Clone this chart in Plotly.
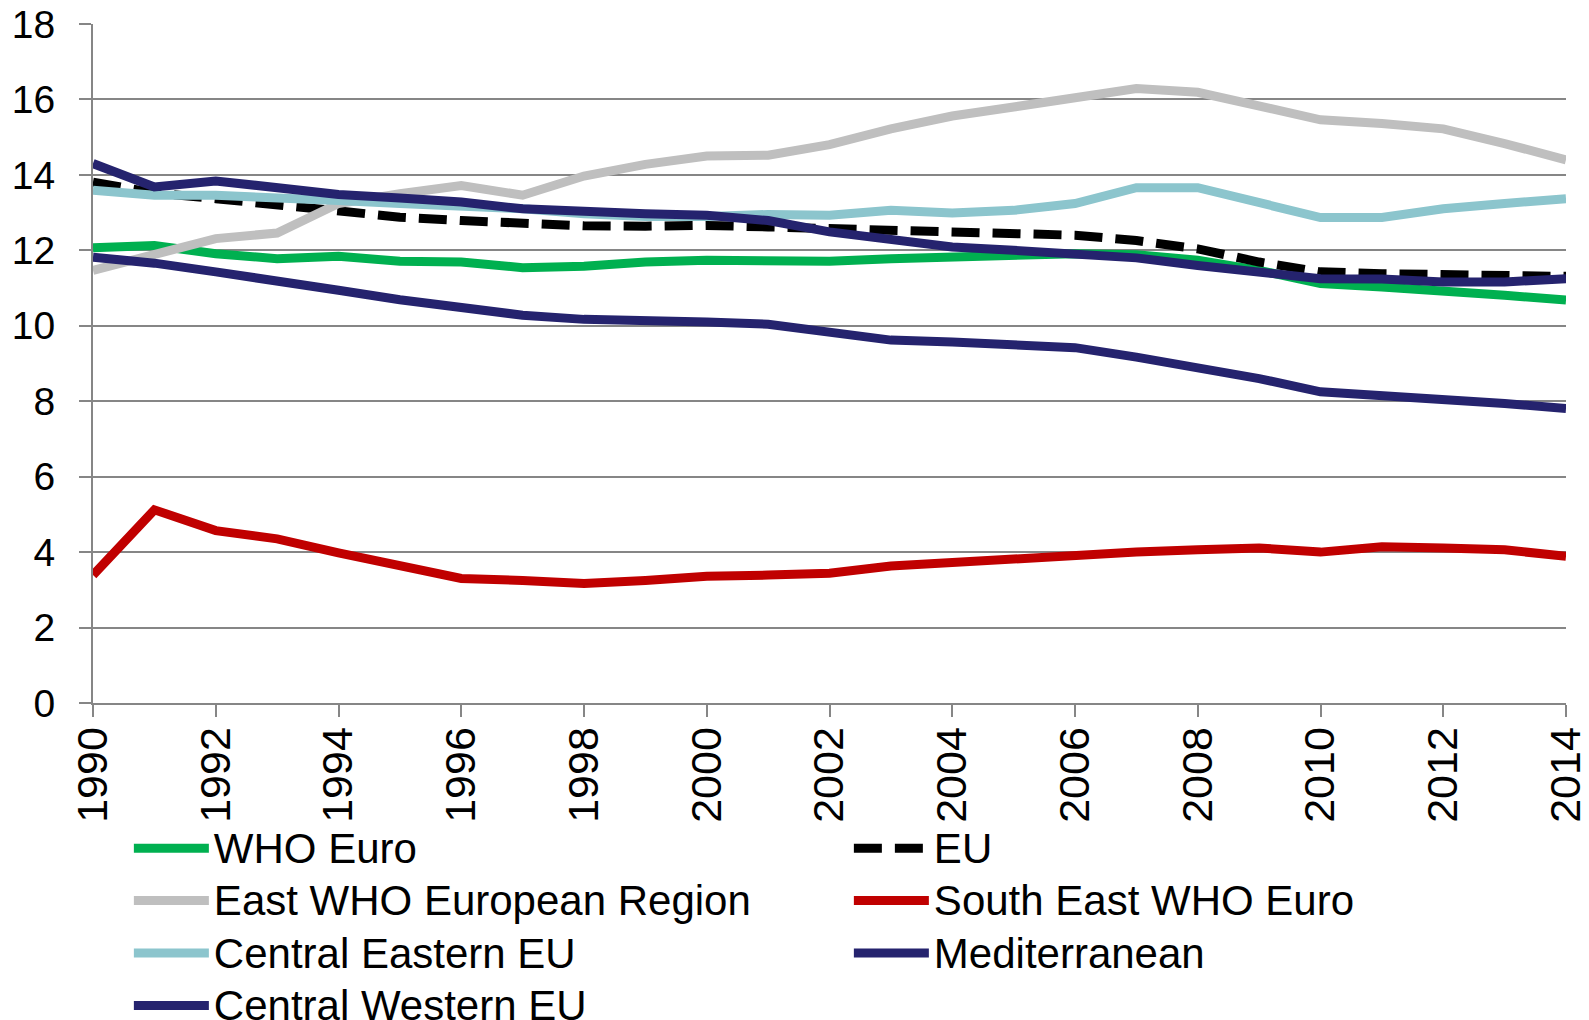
import plotly.graph_objects as go

years = list(range(1990, 2015))

who_euro = [12.07, 12.13, 11.91, 11.78, 11.84, 11.71, 11.69, 11.54, 11.58, 11.69, 11.74, 11.74, 11.71,
            11.78, 11.84, 11.87, 11.91, 11.88, 11.74, 11.47, 11.12, 11.03, 10.94, 10.81, 10.68]
eu = [13.81, 13.52, 13.37, 13.19, 13.06, 12.88, 12.79, 12.72, 12.65, 12.64, 12.66, 12.62, 12.57,
      12.49, 12.46, 12.40, 12.40, 12.26, 12.04, 11.69, 11.43, 11.38, 11.34, 11.34, 11.31]
east_who = [11.47, 11.87, 12.31, 12.46, 13.24, 13.50, 13.72, 13.46, 13.97, 14.28, 14.50, 14.52, 14.80,
            15.22, 15.56, 15.80, 16.04, 16.29, 16.19, 15.84, 15.46, 15.36, 15.22, 14.83, 14.40]
south_east = [3.39, 5.12, 4.57, 4.35, 3.98, 3.63, 3.30, 3.25, 3.17, 3.25, 3.36, 3.39, 3.44,
              3.63, 3.73, 3.82, 3.92, 4.00, 4.06, 4.11, 4.00, 4.14, 4.11, 4.06, 3.89]
central_eastern = [13.59, 13.46, 13.46, 13.41, 13.32, 13.24, 13.17, 13.10, 12.97, 12.90, 12.90, 12.95, 12.93,
                   13.06, 12.99, 13.06, 13.24, 13.66, 13.66, 13.28, 12.87, 12.87, 13.10, 13.24, 13.37]
mediterranean = [11.82, 11.66, 11.43, 11.21, 10.94, 10.69, 10.48, 10.28, 10.17, 10.15, 10.10, 10.04, 9.84,
                 9.62, 9.57, 9.48, 9.42, 9.17, 8.91, 8.60, 8.25, 8.16, 8.03, 7.94, 7.81]
central_western = [14.30, 13.68, 13.84, 13.66, 13.48, 13.39, 13.28, 13.10, 13.02, 12.97, 12.93, 12.79, 12.49,
                   12.26, 12.09, 12.00, 11.91, 11.80, 11.60, 11.45, 11.25, 11.24, 11.16, 11.16, 11.25]

x_ticks = list(range(1990, 2015, 2))
y_ticks = list(range(0, 19, 2))

series = [
    ("WHO Euro", who_euro, "#00B050", "solid"),
    ("EU", eu, "#000000", "28px,13px"),
    ("East WHO European Region", east_who, "#BFBFBF", "solid"),
    ("South East WHO Euro", south_east, "#C00000", "solid"),
    ("Central Eastern EU", central_eastern, "#8CC5CD", "solid"),
    ("Mediterranean", mediterranean, "#25236E", "solid"),
    ("Central Western EU", central_western, "#25236E", "solid"),
]

FONT = "Liberation Sans, Arial, sans-serif"
GRID = "#868686"

fig = go.Figure()
for name, vals, color, dash in series:
    fig.add_trace(go.Scatter(x=years, y=vals, name=f"<span style='font-size:42px'>{name}</span>",
                             mode="lines", line=dict(color=color, width=9, dash=dash)))

fig.update_layout(
    width=1589, height=1020,
    margin=dict(l=93, r=23, t=24, b=317, autoexpand=False),
    paper_bgcolor="white", plot_bgcolor="white",
    font=dict(family=FONT, color="black"),
    showlegend=True,
    legend=dict(
        orientation="h", xref="container", yref="container",
        x=0.0811, y=0.199, xanchor="left", yanchor="top",
        font=dict(size=38, family=FONT, color="black"),
        entrywidth=630, entrywidthmode="pixels",
        itemwidth=75, tracegroupgap=0, bgcolor="rgba(0,0,0,0)",
    ),
    xaxis=dict(
        range=[1990, 2014], tickvals=x_ticks, ticktext=[str(v) for v in x_ticks],
        tickangle=-90, tickfont=dict(size=43, family=FONT, color="black"),
        showgrid=False, zeroline=False, showline=True, linecolor=GRID, linewidth=2,
        ticks="outside", ticklen=12, tickcolor=GRID, tickwidth=2, ticklabelstandoff=-7,
        ticklabeloverflow="allow",
    ),
    yaxis=dict(
        range=[0, 18], tickvals=y_ticks, ticktext=[str(v) for v in y_ticks],
        tickfont=dict(size=39, family=FONT, color="black"),
        showgrid=True, gridcolor=GRID, gridwidth=2, zeroline=False,
        showline=True, linecolor=GRID, linewidth=2,
        ticks="outside", ticklen=12, tickcolor=GRID, tickwidth=2, ticklabelstandoff=16,
        ticklabeloverflow="allow",
    ),
)

fig.write_html("out.html", config={"displayModeBar": False},
               post_script="document.body.style.margin='0';")
